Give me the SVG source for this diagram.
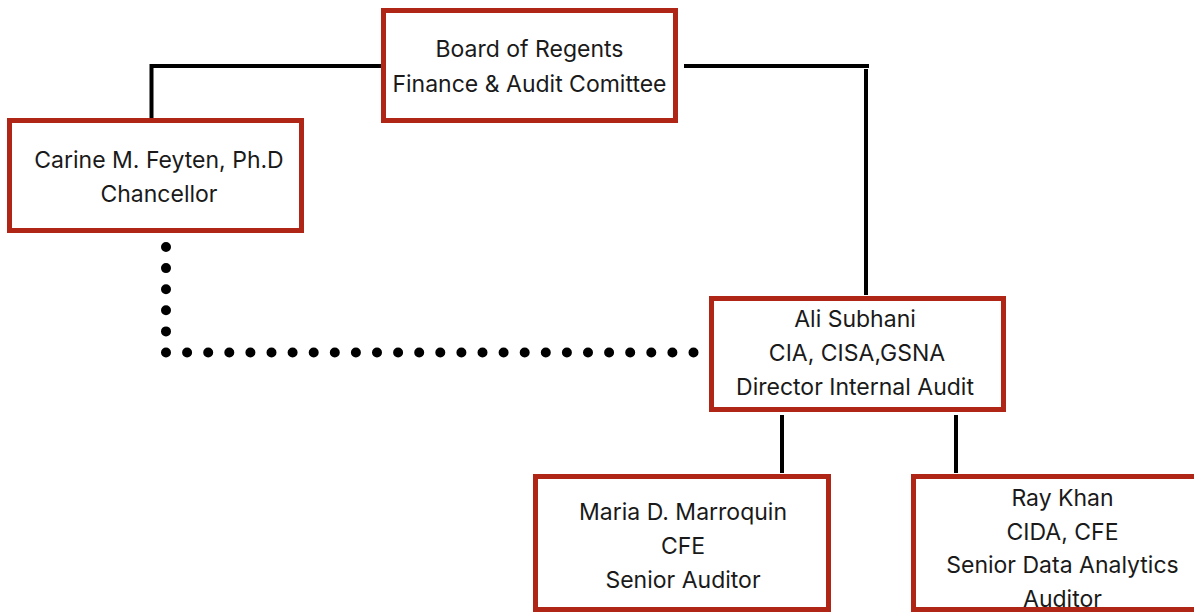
<svg xmlns="http://www.w3.org/2000/svg" width="1194" height="612" viewBox="0 0 1194 612">
  <style>
    .box { fill: #ffffff; stroke: #b02616; stroke-width: 5; }
    .conn { fill: none; stroke: #000000; stroke-width: 4; }
    .dots { fill: none; stroke: #000000; stroke-width: 10; stroke-linecap: round; stroke-dasharray: 0 21.1; }
    .t { font-family: Inter, "Liberation Sans", sans-serif; font-size: 23px; fill: #1a1a1a; text-anchor: middle; }
  </style>
  <rect width="1194" height="612" fill="#ffffff"/>
  <g id="connectors">
    <path class="conn" d="M151.5 118 V66 H381"/>
    <path class="conn" d="M684 66 H869"/>
    <path class="conn" d="M866 69 V295"/>
    <path class="conn" d="M782 415 V473"/>
    <path class="conn" d="M956 415 V473"/>
    <path class="dots" d="M166 247 V352.5 H700"/>
  </g>
  <g id="board">
    <rect class="box" x="383.5" y="10.5" width="292" height="110"/>
    <text class="t" x="529.5" y="57">Board of Regents</text>
    <text class="t" x="529.5" y="92">Finance &amp; Audit Comittee</text>
  </g>
  <g id="chancellor">
    <rect class="box" x="9.5" y="120.5" width="292" height="110"/>
    <text class="t" x="159" y="168">Carine M. Feyten, Ph.D</text>
    <text class="t" x="159" y="202">Chancellor</text>
  </g>
  <g id="director">
    <rect class="box" x="711.5" y="298.5" width="292" height="111"/>
    <text class="t" x="855" y="327">Ali Subhani</text>
    <text class="t" x="857" y="361">CIA, CISA,GSNA</text>
    <text class="t" x="855" y="395">Director Internal Audit</text>
  </g>
  <g id="maria">
    <rect class="box" x="535.5" y="476.5" width="293" height="133"/>
    <text class="t" x="683" y="520">Maria D. Marroquin</text>
    <text class="t" x="683" y="554">CFE</text>
    <text class="t" x="683" y="588">Senior Auditor</text>
  </g>
  <g id="ray">
    <rect fill="#ffffff" x="913.5" y="476.5" width="320" height="133"/>
    <text class="t" x="1062.5" y="506">Ray Khan</text>
    <text class="t" x="1062.5" y="540">CIDA, CFE</text>
    <text class="t" x="1062.5" y="573">Senior Data Analytics</text>
    <text class="t" x="1062.5" y="607">Auditor</text>
    <rect class="box" style="fill:none" x="913.5" y="476.5" width="320" height="133"/>
  </g>
</svg>
